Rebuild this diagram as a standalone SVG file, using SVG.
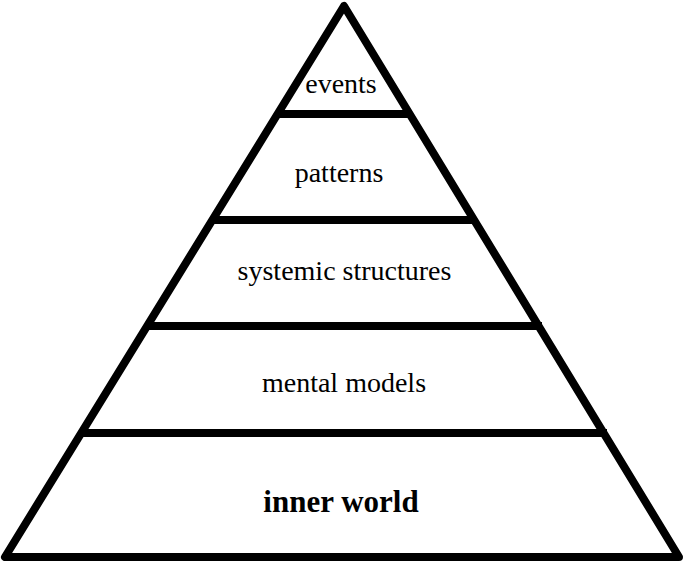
<svg xmlns="http://www.w3.org/2000/svg" width="685" height="563" viewBox="0 0 685 563">
<style>
.edge{fill:none;stroke:#000;stroke-width:8;stroke-linejoin:round;stroke-linecap:butt}
.lbl{font-family:"Liberation Serif","Times New Roman",serif;font-size:28px;fill:#000;text-anchor:middle}
.bold{font-weight:bold;font-size:31px}
</style>
<rect width="685" height="563" fill="#fff"/>
<g id="connectors">
<polygon class="edge" points="344,6 5,557 679,557"/>
<line class="edge" x1="277" y1="114" x2="411" y2="114"/>
<line class="edge" x1="212" y1="220" x2="476" y2="220"/>
<line class="edge" x1="146" y1="326" x2="542" y2="326"/>
<line class="edge" x1="81" y1="433" x2="607" y2="433"/>
</g>
<g id="events"><text class="lbl" x="341" y="93">events</text></g>
<g id="patterns"><text class="lbl" x="339" y="182">patterns</text></g>
<g id="systemic"><text class="lbl" x="344.5" y="280">systemic structures</text></g>
<g id="mental"><text class="lbl" x="344" y="392">mental models</text></g>
<g id="inner"><text class="lbl bold" x="341" y="512">inner world</text></g>
</svg>
